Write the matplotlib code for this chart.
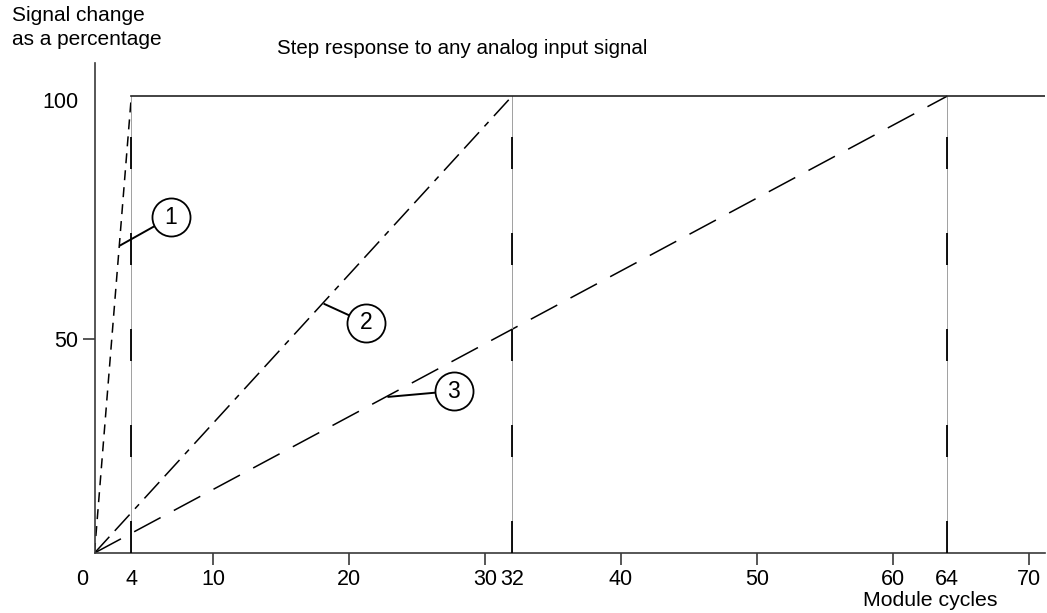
import matplotlib
matplotlib.use('Agg')
import matplotlib.pyplot as plt

plt.rcParams['font.family'] = ['Liberation Sans', 'DejaVu Sans']
plt.rcParams['lines.scale_dashes'] = False

# ---- data ----
steps = [4, 32, 64]                 # module cycles needed to reach 100 %
step_level = 100                    # final signal level (%)
callout_labels = ['1', '2', '3']
callout_centers_x = [6.9, 21.25, 27.7]
callout_centers_y = [75.1, 53.3, 39.3]
callout_leader_x = [3.2, 18.2, 22.9]
callout_leader_y = [69.3, 57.2, 38.1]
xtick_major = [10, 20, 30, 40, 50, 60, 70]
xtick_minor = [4, 32, 64]
ytick_vals = [50]

# ---- layout ----
W, H = 1047, 613
fig = plt.figure(figsize=(W / 100, H / 100), dpi=100)
ax = fig.add_axes([94.5 / W, (H - 553) / H, (1045 - 94.5) / W, (553 - 63) / H])

x_left, x_right = 1.29, 71.18
y_bottom, y_top = 5.97, 106.8
ax.set_xlim(x_left, x_right)
ax.set_ylim(y_bottom, y_top)

px = 0.72  # pixels -> points
dash_styles = [
    [10 * px, 7 * px],
    [22 * px, 8 * px, 22 * px, 8 * px, 6 * px, 8 * px],
    [30 * px, 15 * px],
]

# ramps
for s, d in zip(steps, dash_styles):
    ln, = ax.plot([x_left, s], [y_bottom, step_level], color='black', lw=1.1)
    ln.set_dashes(d)

# vertical lines at the step points
for s in steps:
    ax.plot([s, s], [y_bottom, step_level], color='#a0a0a0', lw=0.7, zorder=2)
    vl, = ax.plot([s, s], [y_bottom, step_level], color='black', lw=1.3, zorder=3)
    vl.set_dashes([32 * px, 64 * px])

# horizontal line at 100 %
ax.plot([steps[0], x_right], [step_level, step_level], color='#222222', lw=1.2)

# callouts
for lab, cx, cy, lx, ly in zip(callout_labels, callout_centers_x, callout_centers_y,
                               callout_leader_x, callout_leader_y):
    ax.plot([lx, cx], [ly, cy], color='black', lw=1.4, zorder=4)
    ax.plot(cx, cy, marker='o', ms=27.4, mfc='white', mec='black', mew=1.3, zorder=5)
    ax.text(cx, cy, lab, ha='center', va='center', fontsize=16.5, zorder=6)

# axes styling
for sp in ['top', 'right']:
    ax.spines[sp].set_visible(False)
for sp in ['left', 'bottom']:
    ax.spines[sp].set_color('#3a3a3a')
    ax.spines[sp].set_linewidth(1.2)

FS = 15.5
ax.set_xticks(xtick_major)
ax.set_xticks(xtick_minor, minor=True)
ax.set_xticklabels([str(v) for v in xtick_major], fontsize=FS)
ax.set_xticklabels([str(v) for v in xtick_minor], minor=True, fontsize=FS)
ax.tick_params(axis='x', which='major', length=8.6, width=1.2, pad=3, color='#3a3a3a')
ax.tick_params(axis='x', which='minor', length=0, pad=11.6)
ax.set_yticks(ytick_vals)
ax.set_yticklabels([str(v) for v in ytick_vals], fontsize=FS)
ax.tick_params(axis='y', length=8.6, width=1.2, pad=3, color='#3a3a3a')

# extra labels at origin and 100
fig.text(82 / W, 1 - 569 / H, '0', ha='center', va='top', fontsize=FS)
fig.text(78 / W, 1 - 103 / H, '100', ha='right', va='center', fontsize=FS)

fig.text(12 / W, 1 - 6 / H, 'Signal change\nas a percentage', ha='left', va='top',
         fontsize=15, linespacing=1.36)
fig.text(277 / W, 1 - 48 / H, 'Step response to any analog input signal',
         ha='left', va='center', fontsize=14.8)
fig.text(930 / W, 1 - 601 / H, 'Module cycles', ha='center', va='center', fontsize=15.3)

fig.savefig('out.png', dpi=100, facecolor='white')
